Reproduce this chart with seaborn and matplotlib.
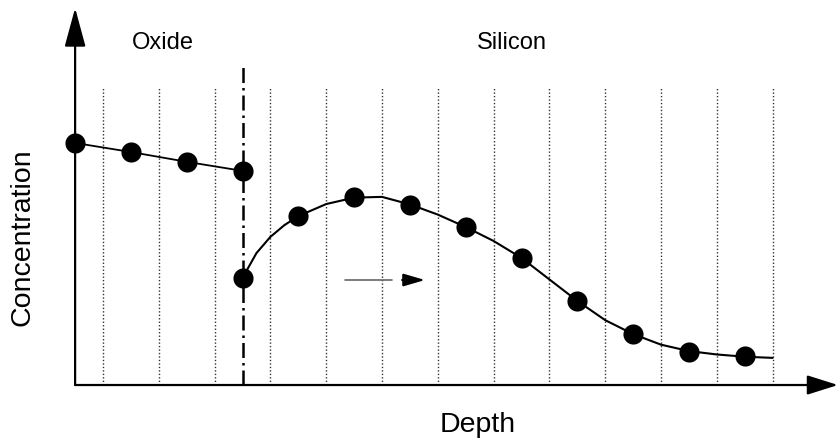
import matplotlib
matplotlib.use("Agg")
import matplotlib.pyplot as plt
import seaborn as sns
import pandas as pd

# ---- data ----
oxide_x = [0, 1, 2, 3]
oxide_y = [6.42, 6.18, 5.92, 5.68]

silicon_x = [3, 4, 5, 6, 7, 8, 9, 10, 11, 12]
silicon_y = [2.84, 4.48, 4.99, 4.77, 4.19, 3.37, 2.23, 1.35, 0.88, 0.77]

# smooth fitted curve through the silicon profile (read at the grid lines)
curve_x = [3, 3.25, 3.5, 3.75, 4, 4.5, 5, 5.5, 6, 6.5, 7, 7.5, 8, 8.5, 9, 9.5, 10, 10.5, 11, 11.5, 12, 12.5]
curve_y = [2.84, 3.50, 3.93, 4.24, 4.48, 4.80, 4.97, 4.99, 4.79, 4.52, 4.19, 3.82, 3.37, 2.80, 2.23, 1.72, 1.35, 1.07, 0.90, 0.81, 0.75, 0.72]

grid_x = [0.5, 1.5, 2.5, 3.5, 4.5, 5.5, 6.5, 7.5, 8.5, 9.5, 10.5, 11.5, 12.5]
interface_x = 3

region_labels = ["Oxide", "Silicon"]
x_label = "Depth"
y_label = "Concentration"

sns.set_theme(style="white")
plt.rcParams["font.family"] = ["Liberation Sans", "DejaVu Sans"]

fig = plt.figure(figsize=(8.39, 4.43), dpi=100)
ax = fig.add_axes([0, 0, 1, 1])
ax.set_xlim(-1.346, 13.689)
ax.set_ylim(-1.538, 10.212)
ax.axis("off")

# dotted grid lines
for gx in grid_x:
    ax.plot([gx, gx], [0, 7.88], color="#333333", lw=1.0, ls=(0, (1, 1.5)), zorder=1)
# dash-dot interface line
ax.plot([interface_x, interface_x], [0, 8.49], color="black", lw=1.8,
        ls=(0, (6, 2, 1, 2)), zorder=2)

# axes with arrows
ax.annotate("", xy=(0, 10.0), xytext=(0, 0),
            arrowprops=dict(arrowstyle="-|>,head_length=2.4,head_width=0.65",
                            mutation_scale=10, lw=1.6, color="black",
                            shrinkA=0, shrinkB=0), zorder=3)
ax.annotate("", xy=(13.67, 0), xytext=(0, 0),
            arrowprops=dict(arrowstyle="-|>,head_length=1.9,head_width=0.6",
                            mutation_scale=10, lw=1.6, color="black",
                            shrinkA=0, shrinkB=0), zorder=3)

# oxide profile
ox = pd.DataFrame({"x": oxide_x, "y": oxide_y})
sns.lineplot(data=ox, x="x", y="y", ax=ax, color="black", lw=1.3,
             estimator=None, sort=False, zorder=4)
sns.scatterplot(data=ox, x="x", y="y", ax=ax, color="black", s=210,
                edgecolor="black", linewidth=0, zorder=5)

# silicon profile
cv = pd.DataFrame({"x": curve_x, "y": curve_y})
sns.lineplot(data=cv, x="x", y="y", ax=ax, color="black", lw=1.5,
             estimator=None, sort=False, zorder=4)
si = pd.DataFrame({"x": silicon_x, "y": silicon_y})
sns.scatterplot(data=si, x="x", y="y", ax=ax, color="black", s=210,
                edgecolor="black", linewidth=0, zorder=5)

# small diffusion-direction arrow
ax.plot([4.84, 5.68], [2.785, 2.785], color="#666666", lw=1.2, zorder=3)
ax.annotate("", xy=(6.27, 2.785), xytext=(5.86, 2.785),
            arrowprops=dict(arrowstyle="-|>,head_length=1.3,head_width=0.38",
                            mutation_scale=10, lw=1.5, color="black",
                            shrinkA=0, shrinkB=0), zorder=3)

# labels
ax.text(1.575, 9.07, region_labels[0], ha="center", va="center", fontsize=17, color="black")
ax.text(7.83, 9.07, region_labels[1], ha="center", va="center", fontsize=17, color="black")
ax.text(-0.95, 3.91, y_label, rotation=90, ha="center", va="center", fontsize=20.5, color="black")
ax.text(7.22, -1.06, x_label, ha="center", va="center", fontsize=20.5, color="black")

ax.set_xlabel("")
ax.set_ylabel("")
fig.savefig("out.png", dpi=100)
